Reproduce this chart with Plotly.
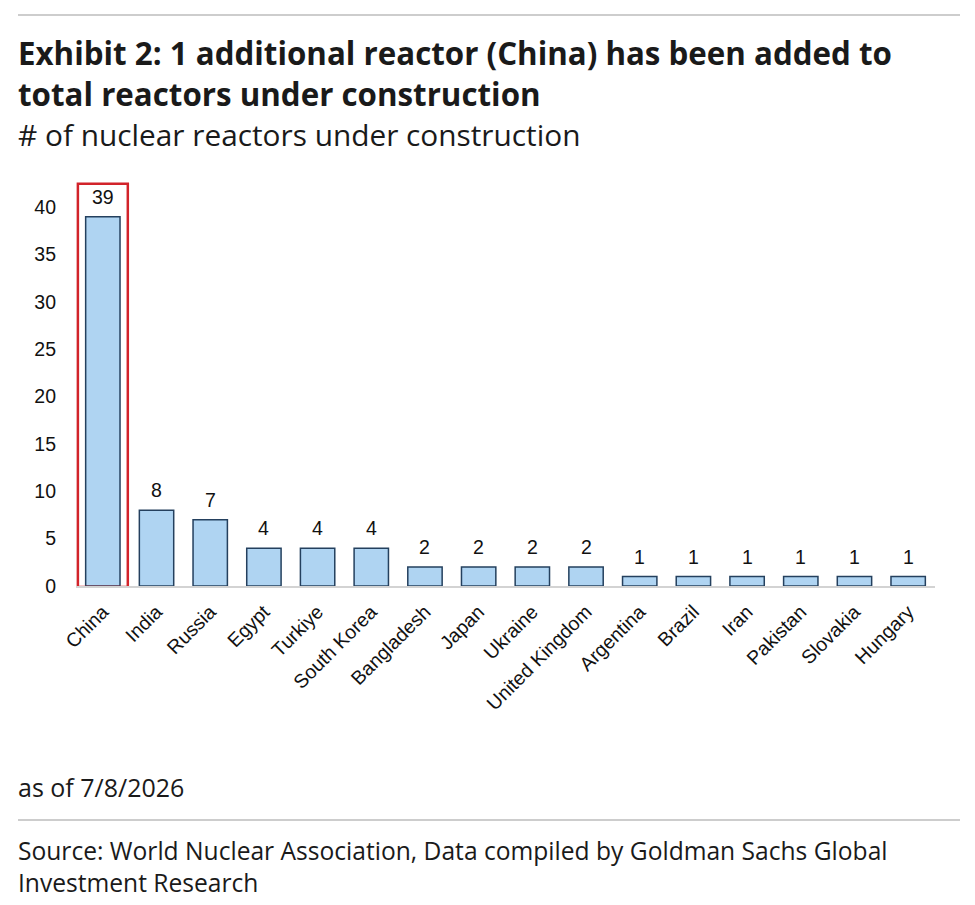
import plotly.graph_objects as go

# data
countries = ["China", "India", "Russia", "Egypt", "Turkiye", "South Korea", "Bangladesh",
             "Japan", "Ukraine", "United Kingdom", "Argentina", "Brazil", "Iran",
             "Pakistan", "Slovakia", "Hungary"]
reactors = [39, 8, 7, 4, 4, 4, 2, 2, 2, 2, 1, 1, 1, 1, 1, 1]
y_ticks = [0, 5, 10, 15, 20, 25, 30, 35, 40]

title_1 = "Exhibit 2: 1 additional reactor (China) has been added to"
title_2 = "total reactors under construction"
subtitle = "# of nuclear reactors under construction"
note = "as of 7/8/2026"
source_1 = "Source: World Nuclear Association, Data compiled by Goldman Sachs Global"
source_2 = "Investment Research"

W, H = 975, 905
L, R, T, B = 76, 40, 160, 319
plot_h = H - T - B
plot_w = W - L - R


def py(p):
    # pixel row -> paper y
    return (H - B - p) / plot_h


def px(p):
    # pixel column -> paper x
    return (p - L) / plot_w


fig = go.Figure()
fig.add_trace(go.Bar(
    x=countries, y=reactors,
    marker=dict(color="#AFD4F2", line=dict(color="#24405E", width=1.5)),
    width=0.64,
))

# value labels a bit further above the bars than plotly's default
for c, v in zip(countries, reactors):
    fig.add_annotation(x=c, y=v, text=str(v), showarrow=False,
                       yanchor="middle", yshift=20,
                       font=dict(family="Liberation Sans, Arial", size=19.5, color="#111111"))

# red highlight around China
hi = countries.index("China")
fig.add_shape(type="rect", xref="x", yref="y",
              x0=hi - 0.465, x1=hi + 0.465, y0=-0.1, y1=reactors[hi] + 3.5,
              line=dict(color="#D2232A", width=2.5))

# rule lines top and above source
for p in (15, 820):
    fig.add_shape(type="line", xref="paper", yref="paper",
                  x0=px(18), x1=px(960), y0=py(p), y1=py(p),
                  line=dict(color="#BDBDBD", width=1.5))

# title block as one text so the lines sit tight like the original
head = f"<b>{title_1}<br>{title_2}</b><br><span style='font-size:29.8px'>{subtitle}</span>"
fig.add_annotation(text=head, xref="paper", yref="paper", x=px(16), y=py(93),
                   xanchor="left", yanchor="middle", align="left", showarrow=False,
                   font=dict(family="Open Sans", size=31.3, color="#1A1A1A"))

texts = [
    (note, 787, 25),
    (source_1, 850, 24.6),
    (source_2, 882, 24.6),
]
for txt, p, sz in texts:
    fig.add_annotation(text=txt, xref="paper", yref="paper", x=px(16), y=py(p),
                       xanchor="left", yanchor="middle", showarrow=False,
                       font=dict(family="Open Sans", size=sz, color="#1A1A1A"))

fig.update_layout(
    width=W, height=H,
    margin=dict(l=L, r=R, t=T, b=B),
    paper_bgcolor="white", plot_bgcolor="white",
    showlegend=False,
    bargap=0.36,
)
fig.update_xaxes(
    tickangle=-45, showline=True, linecolor="#D3D3D3", linewidth=1.5,
    ticks="", range=[-0.5, len(countries) - 0.5], ticklabelstandoff=5,
    tickfont=dict(family="Liberation Sans, Arial", size=19.5, color="#111111"),
)
fig.update_yaxes(
    range=[0, 45], tickvals=y_ticks, showgrid=False, zeroline=False, showline=False,
    ticks="", ticklabelstandoff=19,
    tickfont=dict(family="Liberation Sans, Arial", size=19.5, color="#111111"),
)

fig.write_html("out.html", config={"displayModeBar": False},
               post_script="document.body.style.margin='0';")
